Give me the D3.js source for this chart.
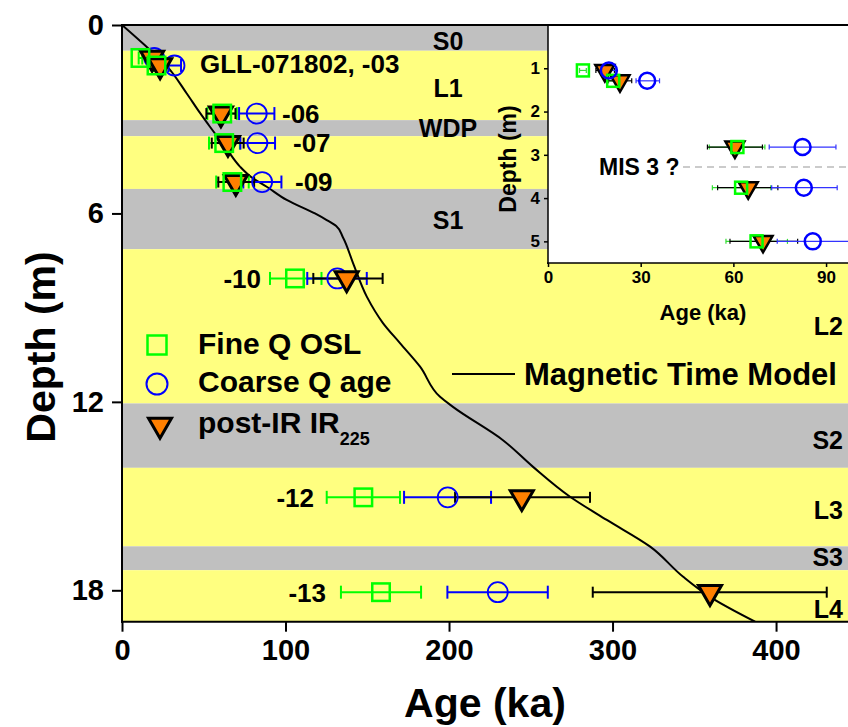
<!DOCTYPE html>
<html>
<head>
<meta charset="utf-8">
<script src="https://cdn.jsdelivr.net/npm/d3@7"></script>
<style>
  body { margin: 0; background: #fff; }
  svg { display: block; font-family: "Liberation Sans", Arial, Helvetica, sans-serif; font-weight: bold; }
</style>
</head>
<body>
<svg class="chart-svg"></svg>
<script>
// sample depths (m) and ages (ka)
const sampleDepth = [1.05, 1.29, 2.82, 3.76, 5.0, 8.07, 15.04, 18.06];
const fineAge = [11.3, 21.1, 61.3, 62.5, 67.5, 105.8, 147.6, 158.4];
const fineLo = [10.2, 19.6, 52.2, 53.2, 57.6, 90.5, 125.2, 133.9];
const fineHi = [12.4, 22.6, 70.2, 72.1, 77.5, 122.0, 170.0, 182.9];
const coarseAge = [19.7, 32.1, 82.4, 82.8, 85.7, 131.7, 199.2, 229.8];
const coarseLo = [17.5, 28.5, 71.6, 72.4, 74.2, 113.3, 172.5, 199.0];
const coarseHi = [22.0, 36.1, 93.2, 93.6, 97.5, 149.7, 225.7, 260.4];
const irAge = [18.4, 23.3, 60.5, 64.8, 69.6, 137.4, 244.5, 359.6];
const irLo = [15.5, 19.4, 51.6, 54.9, 58.9, 117.0, 203.7, 287.9];
const irHi = [21.5, 27.1, 69.4, 74.4, 80.8, 159.4, 286.2, 431.0];

// magnetic time model
const magAge = [0, 13, 27.3, 39.6, 47.7, 53.8, 64, 72, 80, 88.5, 100.7, 118, 125.2, 131, 135, 141.3, 149.7, 159.6, 170, 182.3, 194.5, 202.4, 233, 251.4, 274, 296.5, 323, 343.2, 359.6, 387.2];
const magDepth = [0, 0.6, 1.3, 2.18, 2.8, 3.24, 3.95, 4.5, 4.88, 5.15, 5.57, 6.0, 6.21, 6.4, 6.75, 7.58, 8.65, 9.49, 10.13, 10.88, 11.84, 12.16, 13.22, 14.07, 15.02, 15.76, 16.61, 17.57, 18.21, 19.0];

// soil (S) / loess (L) units
const unitBounds = [0, 0.82, 3.03, 3.54, 5.22, 7.14, 12.05, 14.1, 16.6, 17.36, 19];
const unitType = ["S", "L", "S", "L", "S", "L", "S", "L", "S", "L"];
const unitNames = ["S0", "L1", "WDP", "S1", "L2", "S2", "L3", "S3", "L4"];
const unitNameDepth = [0.5, 2.0, 3.27, 6.2, 9.6, 13.2, 15.45, 16.95, 18.6];

const sampleLabels = ["GLL-071802, -03", "-06", "-07", "-09", "-10", "-12", "-13"];
const mainXTicks = [0, 100, 200, 300, 400];
const mainYTicks = [0, 6, 12, 18];
const insetXTicks = [0, 30, 60, 90];
const insetYTicks = [1, 2, 3, 4, 5];

function drawChart() {
  const W = 848, H = 727;
  const svg = d3.select(".chart-svg").attr("width", W).attr("height", H);

  const x = d3.scaleLinear().domain([0, 444]).range([122, 848]);
  const y = d3.scaleLinear().domain([0, 19]).range([25, 621.7]);

  // bands
  svg.append("g").selectAll("rect").data(unitType).enter().append("rect")
    .attr("x", x(0)).attr("width", x(444) - x(0))
    .attr("y", (d, i) => y(unitBounds[i]))
    .attr("height", (d, i) => y(unitBounds[i + 1]) - y(unitBounds[i]))
    .attr("fill", (d) => d === "S" ? "#c0c0c0" : "#ffff80");

  // band names
  svg.append("g").selectAll("text").data(unitNames).enter().append("text")
    .attr("x", (d, i) => i < 4 ? 448 : 843)
    .attr("y", (d, i) => y(unitNameDepth[i]))
    .attr("dy", "0.36em")
    .attr("text-anchor", (d, i) => i < 4 ? "middle" : "end")
    .style("font-size", "25px")
    .text((d) => d);

  // magnetic time model
  const line = d3.line().x((d) => x(d[0])).y((d) => y(d[1])).curve(d3.curveMonotoneY);
  svg.append("defs").append("clipPath").attr("id", "clipMain")
    .append("rect").attr("x", 122).attr("y", 25).attr("width", 726).attr("height", 597);
  svg.append("path")
    .datum(magAge.map((a, i) => [a, magDepth[i]]))
    .attr("clip-path", "url(#clipMain)")
    .attr("d", line).attr("fill", "none").attr("stroke", "#000").attr("stroke-width", 2);

  function errBars(g, xs, lo, hi, idx, color, lw, cap) {
    idx.forEach((i) => {
      const yy = g.ys(sampleDepth[i]);
      g.node.append("line").attr("x1", xs(lo[i])).attr("x2", xs(hi[i]))
        .attr("y1", yy).attr("y2", yy).attr("stroke", color).attr("stroke-width", lw);
      [lo[i], hi[i]].forEach((v) => {
        g.node.append("line").attr("x1", xs(v)).attr("x2", xs(v))
          .attr("y1", yy - cap / 2).attr("y2", yy + cap / 2)
          .attr("stroke", color).attr("stroke-width", lw);
      });
    });
  }
  function tri(w) {
    const h = w * Math.sqrt(3) / 2;
    return `M${-w / 2},${-h / 3}L${w / 2},${-h / 3}L0,${2 * h / 3}Z`;
  }

  // main data
  const all = d3.range(sampleDepth.length);
  const main = { node: svg.append("g"), ys: y };
  errBars(main, x, fineLo, fineHi, all, "#00ff00", 2, 13);
  errBars(main, x, coarseLo, coarseHi, all, "#0000ff", 2, 13);
  errBars(main, x, irLo, irHi, all, "#000", 2, 11);
  main.node.selectAll(".c").data(all).enter().append("circle")
    .attr("cx", (i) => x(coarseAge[i])).attr("cy", (i) => y(sampleDepth[i])).attr("r", 10)
    .attr("fill", "none").attr("stroke", "#0000ff").attr("stroke-width", 1.8);
  main.node.selectAll(".t").data(all).enter().append("path")
    .attr("transform", (i) => `translate(${x(irAge[i])},${y(sampleDepth[i])})`)
    .attr("d", tri(23)).attr("fill", "#ff7f00").attr("stroke", "#000")
    .attr("stroke-width", 3).attr("stroke-linejoin", "miter");
  main.node.selectAll(".s").data(all).enter().append("rect")
    .attr("x", (i) => x(fineAge[i]) - 8.75).attr("y", (i) => y(sampleDepth[i]) - 8.75)
    .attr("width", 17.5).attr("height", 17.5)
    .attr("fill", "none").attr("stroke", "#00ff00").attr("stroke-width", 2.5);

  // sample labels
  const labelPos = [
    [200, 63.5, "start"], [282, y(2.82), "start"], [293, y(3.76), "start"], [295, y(5.0), "start"],
    [261, y(8.07), "end"], [314, y(15.04), "end"], [326, y(18.06), "end"]
  ];
  svg.append("g").selectAll("text").data(sampleLabels).enter().append("text")
    .attr("x", (d, i) => labelPos[i][0]).attr("y", (d, i) => labelPos[i][1])
    .attr("dy", "0.36em").attr("text-anchor", (d, i) => labelPos[i][2])
    .style("font-size", "26px").text((d) => d);

  // main axes
  const yAxis = svg.append("g").attr("transform", "translate(122,0)")
    .call(d3.axisLeft(y).tickValues(mainYTicks).tickSize(10).tickPadding(8));
  const xAxis = svg.append("g").attr("transform", "translate(0,621.7)")
    .call(d3.axisBottom(x).tickValues(mainXTicks).tickSize(10).tickPadding(8));
  [yAxis, xAxis].forEach((a) => {
    a.select(".domain").remove();
    a.selectAll("line").attr("stroke-width", 2);
    a.selectAll("text").style("font-size", "29px").style("font-weight", "bold").attr("fill", "#000");
  });
  svg.append("line").attr("x1", 122).attr("x2", 122).attr("y1", 25).attr("y2", 622.7)
    .attr("stroke", "#000").attr("stroke-width", 2);
  svg.append("line").attr("x1", 121).attr("x2", 848).attr("y1", 621.7).attr("y2", 621.7)
    .attr("stroke", "#000").attr("stroke-width", 2);
  svg.append("line").attr("x1", 121).attr("x2", 848).attr("y1", 25).attr("y2", 25)
    .attr("stroke", "#000").attr("stroke-width", 2);

  svg.append("text").attr("x", 485).attr("y", 716.5).attr("text-anchor", "middle")
    .style("font-size", "41px").text("Age (ka)");
  svg.append("text").attr("transform", "translate(55,347)rotate(-90)").attr("text-anchor", "middle")
    .style("font-size", "41px").text("Depth (m)");

  // legend
  const leg = svg.append("g");
  leg.append("rect").attr("x", 157 - 9.5).attr("y", 345 - 9.5).attr("width", 19).attr("height", 19)
    .attr("fill", "none").attr("stroke", "#00ff00").attr("stroke-width", 2.5);
  leg.append("circle").attr("cx", 157).attr("cy", 384).attr("r", 10.5)
    .attr("fill", "none").attr("stroke", "#0000ff").attr("stroke-width", 2);
  leg.append("path").attr("transform", "translate(160,425)").attr("d", tri(23))
    .attr("fill", "#ff7f00").attr("stroke", "#000").attr("stroke-width", 3);
  leg.append("text").attr("x", 198).attr("y", 354).style("font-size", "30px").text("Fine Q OSL");
  leg.append("text").attr("x", 198).attr("y", 392).style("font-size", "30px").text("Coarse Q age");
  const pir = leg.append("text").attr("x", 198).attr("y", 433).style("font-size", "30px");
  pir.append("tspan").text("post-IR IR");
  pir.append("tspan").attr("dy", 12).style("font-size", "18px").text("225");
  leg.append("line").attr("x1", 452).attr("x2", 515).attr("y1", 374).attr("y2", 374)
    .attr("stroke", "#000").attr("stroke-width", 2);
  leg.append("text").attr("x", 524).attr("y", 385).style("font-size", "31px").text("Magnetic Time Model");

  // inset
  const ix = d3.scaleLinear().domain([0, 97.1]).range([548, 848]);
  const iy = d3.scaleLinear().domain([0, 5.5]).range([25, 263]);
  const inset = svg.append("g");
  inset.append("rect").attr("x", 548).attr("y", 26).attr("width", 300).attr("height", 237).attr("fill", "#fff");
  inset.append("line").attr("x1", 683).attr("x2", 848).attr("y1", iy(3.28)).attr("y2", iy(3.28))
    .attr("stroke", "#bbbbbb").attr("stroke-width", 1.5).attr("stroke-dasharray", "7,5");
  inset.append("text").attr("x", 599).attr("y", iy(3.28)).attr("dy", "0.36em")
    .style("font-size", "23px").text("MIS 3 ?");

  const sub = all.filter((i) => sampleDepth[i] < 5.5);
  const ins = { node: inset.append("g"), ys: iy };
  errBars(ins, ix, fineLo, fineHi, sub, "#33dd33", 1.2, 5);
  errBars(ins, ix, irLo, irHi, sub, "#000", 1.2, 5);
  errBars(ins, ix, coarseLo, coarseHi, sub, "#3333ff", 1.2, 5);
  ins.node.selectAll(".t").data(sub).enter().append("path")
    .attr("transform", (i) => `translate(${ix(irAge[i])},${iy(sampleDepth[i])})`)
    .attr("d", tri(19)).attr("fill", "#ff7f00").attr("stroke", "#000").attr("stroke-width", 2.5);
  ins.node.selectAll(".s").data(sub).enter().append("rect")
    .attr("x", (i) => ix(fineAge[i]) - 6).attr("y", (i) => iy(sampleDepth[i]) - 6)
    .attr("width", 12).attr("height", 12)
    .attr("fill", "none").attr("stroke", "#00ff00").attr("stroke-width", 2.5);
  ins.node.selectAll(".c").data(sub).enter().append("circle")
    .attr("cx", (i) => ix(coarseAge[i])).attr("cy", (i) => iy(sampleDepth[i])).attr("r", 8)
    .attr("fill", "none").attr("stroke", "#0000ff").attr("stroke-width", 2.5);

  const iyAxis = inset.append("g").attr("transform", "translate(548,0)")
    .call(d3.axisLeft(iy).tickValues(insetYTicks).tickFormat(d3.format("d")).tickSize(4).tickPadding(4));
  const ixAxis = inset.append("g").attr("transform", "translate(0,263)")
    .call(d3.axisBottom(ix).tickValues(insetXTicks).tickFormat(d3.format("d")).tickSize(4).tickPadding(4));
  [iyAxis, ixAxis].forEach((a) => {
    a.select(".domain").remove();
    a.selectAll("line").attr("stroke-width", 1.5);
    a.selectAll("text").style("font-size", "17px").style("font-weight", "bold").attr("fill", "#000");
  });
  inset.append("line").attr("x1", 548).attr("x2", 548).attr("y1", 25).attr("y2", 264)
    .attr("stroke", "#000").attr("stroke-width", 1.5);
  inset.append("line").attr("x1", 547).attr("x2", 848).attr("y1", 263).attr("y2", 263)
    .attr("stroke", "#000").attr("stroke-width", 1.5);
  inset.append("text").attr("x", 703).attr("y", 320).attr("text-anchor", "middle")
    .style("font-size", "22px").text("Age (ka)");
  inset.append("text").attr("transform", "translate(516,159)rotate(-90)").attr("text-anchor", "middle")
    .style("font-size", "23px").text("Depth (m)");
}

drawChart();
</script>
</body>
</html>
